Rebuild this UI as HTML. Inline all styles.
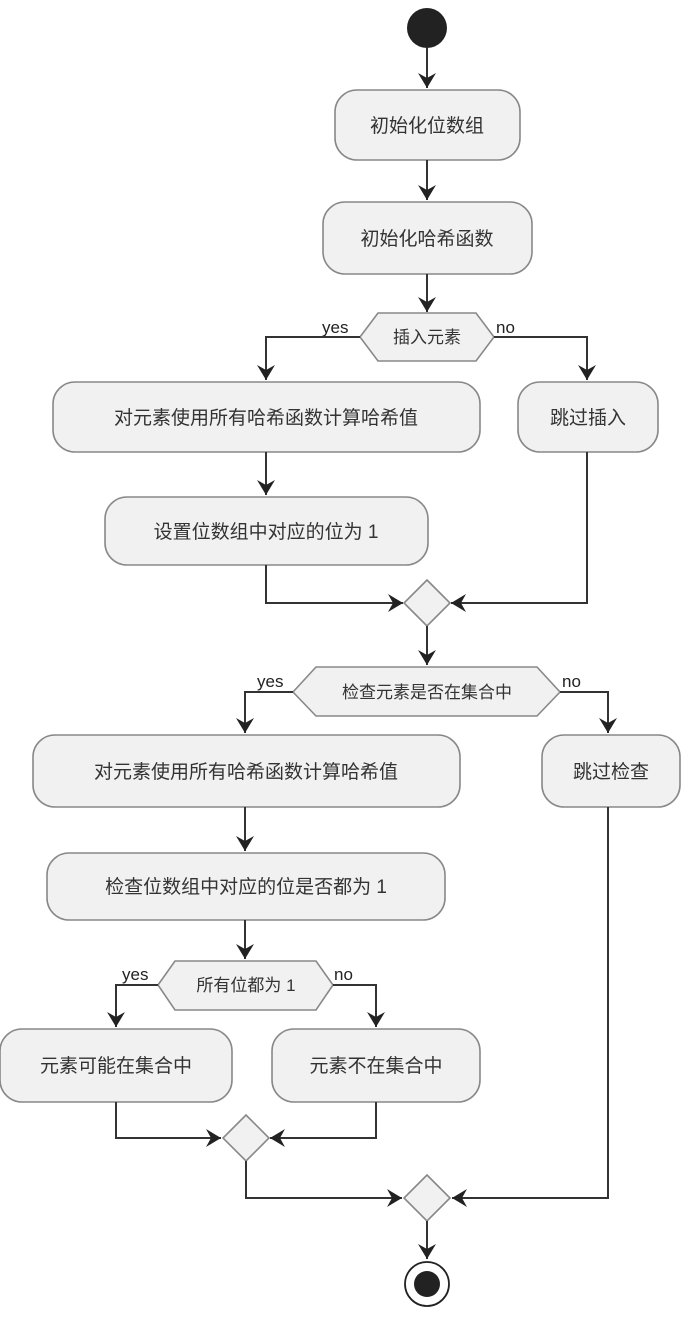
<!DOCTYPE html>
<html><head><meta charset="utf-8"><style>
html,body{margin:0;padding:0;background:#fff;}
svg{display:block;}
text{font-family:"Liberation Sans","Noto Sans CJK SC",sans-serif;}
.b{fill:#f1f1f1;stroke:#888;stroke-width:1.6;}
.l{fill:none;stroke:#333;stroke-width:2;}
.t{font-size:19px;fill:#333;text-anchor:middle;}
.s{font-size:17px;fill:#222;}
</style></head><body>
<svg width="682" height="1318" viewBox="0 0 682 1318" xmlns="http://www.w3.org/2000/svg">
<defs>
<marker id="a" markerWidth="16" markerHeight="18" refX="15" refY="9" orient="auto" markerUnits="userSpaceOnUse">
<path d="M0,0 L15,9 L0,18 L5,9 Z" fill="#222"/>
</marker>
</defs>
<circle cx="427" cy="28" r="20" fill="#222"/>
<path class="l" d="M427 48 V88" marker-end="url(#a)"/>
<rect class="b" x="335" y="90" width="185" height="70" rx="22"/>
<text class="t" x="427" y="132">初始化位数组</text>
<path class="l" d="M427 160 V200" marker-end="url(#a)"/>
<rect class="b" x="323" y="202" width="209" height="72" rx="22"/>
<text class="t" x="427" y="245">初始化哈希函数</text>
<path class="l" d="M427 274 V312" marker-end="url(#a)"/>
<polygon class="b" points="360,337 378,313 476,313 494,337 476,361 378,361"/>
<text class="t" x="427" y="343" style="font-size:17px">插入元素</text>
<text class="s" x="322" y="333">yes</text>
<text class="s" x="496" y="333">no</text>
<path class="l" d="M360 337 H266 V380" marker-end="url(#a)"/>
<path class="l" d="M494 337 H587 V380" marker-end="url(#a)"/>
<rect class="b" x="53" y="382" width="427" height="70" rx="22"/>
<text class="t" x="266" y="424">对元素使用所有哈希函数计算哈希值</text>
<rect class="b" x="518" y="382" width="140" height="70" rx="22"/>
<text class="t" x="588" y="424">跳过插入</text>
<path class="l" d="M266 452 V495" marker-end="url(#a)"/>
<rect class="b" x="105" y="497" width="323" height="68" rx="22"/>
<text class="t" x="266" y="538">设置位数组中对应的位为 1</text>
<path class="l" d="M266 565 V603 H403" marker-end="url(#a)"/>
<path class="l" d="M587 452 V603 H451" marker-end="url(#a)"/>
<polygon class="b" points="427,580 450,603 427,626 404,603"/>
<path class="l" d="M427 626 V665" marker-end="url(#a)"/>
<polygon class="b" points="293,692 316,667 537,667 560,692 537,716 316,716"/>
<text class="t" x="427" y="698" style="font-size:17px">检查元素是否在集合中</text>
<text class="s" x="257" y="687">yes</text>
<text class="s" x="562" y="687">no</text>
<path class="l" d="M293 692 H245 V733" marker-end="url(#a)"/>
<path class="l" d="M560 692 H608 V733" marker-end="url(#a)"/>
<rect class="b" x="33" y="735" width="427" height="72" rx="22"/>
<text class="t" x="246" y="778">对元素使用所有哈希函数计算哈希值</text>
<rect class="b" x="542" y="735" width="138" height="72" rx="22"/>
<text class="t" x="611" y="778">跳过检查</text>
<path class="l" d="M245 807 V851" marker-end="url(#a)"/>
<rect class="b" x="47" y="853" width="398" height="67" rx="22"/>
<text class="t" x="246" y="893">检查位数组中对应的位是否都为 1</text>
<path class="l" d="M245 920 V959" marker-end="url(#a)"/>
<polygon class="b" points="158,985 175,961 316,961 333,985 316,1010 175,1010"/>
<text class="t" x="246" y="991" style="font-size:17px">所有位都为 1</text>
<text class="s" x="122" y="980">yes</text>
<text class="s" x="334" y="980">no</text>
<path class="l" d="M158 985 H116 V1027" marker-end="url(#a)"/>
<path class="l" d="M333 985 H376 V1027" marker-end="url(#a)"/>
<rect class="b" x="0" y="1029" width="232" height="73" rx="22"/>
<text class="t" x="116" y="1072">元素可能在集合中</text>
<rect class="b" x="272" y="1029" width="208" height="73" rx="22"/>
<text class="t" x="376" y="1072">元素不在集合中</text>
<path class="l" d="M116 1102 V1138 H221" marker-end="url(#a)"/>
<path class="l" d="M376 1102 V1138 H270" marker-end="url(#a)"/>
<polygon class="b" points="246,1115 269,1138 246,1161 223,1138"/>
<path class="l" d="M246 1161 V1198 H402" marker-end="url(#a)"/>
<path class="l" d="M608 807 V1198 H452" marker-end="url(#a)"/>
<polygon class="b" points="427,1175 450,1198 427,1221 404,1198"/>
<path class="l" d="M427 1221 V1259" marker-end="url(#a)"/>
<circle cx="427" cy="1284" r="22" fill="#fff" stroke="#222" stroke-width="1.8"/>
<circle cx="427" cy="1284" r="13" fill="#222"/>
</svg>
</body></html>
